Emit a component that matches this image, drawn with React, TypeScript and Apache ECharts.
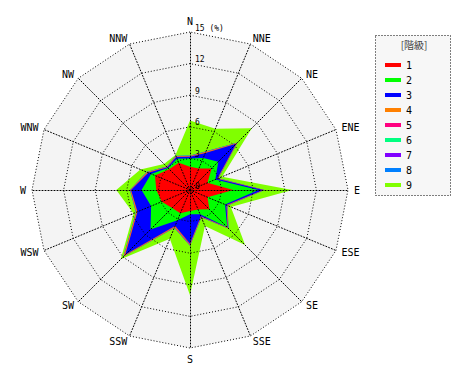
import React, { useEffect, useRef } from 'react';
import * as echarts from 'echarts';

const directions = ['N', 'NNE', 'NE', 'ENE', 'E', 'ESE', 'SE', 'SSE', 'S', 'SSW', 'SW', 'WSW', 'W', 'WNW', 'NW', 'NNW'];
const classNames = ['1', '2', '3', '4', '5', '6', '7', '8', '9'];
const classColors = ['#ff0000', '#00ff00', '#0000ff', '#ff8000', '#ff0080', '#00ff80', '#8000ff', '#0080ff', '#80ff00'];
const radiusMax = 15;
const radiusSplits = 5;

// cumulative frequency (%) per class, by direction (N, NNE, ... clockwise)
const class1 = [2.2, 2.2, 2.9, 1.8, 4.1, 1.8, 2.6, 2.0, 2.0, 2.4, 2.4, 2.9, 3.2, 3.6, 2.8, 2.8];
const class2 = [3.0, 3.3, 3.8, 2.6, 6.5, 3.6, 5.0, 2.5, 2.3, 3.1, 5.3, 4.0, 4.6, 4.0, 2.95, 3.2];
const class3 = [3.15, 3.8, 6.2, 2.8, 6.95, 3.75, 5.05, 2.7, 5.1, 3.7, 8.7, 5.4, 5.6, 4.3, 3.05, 3.4];
const class4 = [3.2, 3.9, 6.3, 2.85, 7.0, 3.8, 5.1, 2.75, 5.15, 3.8, 8.85, 5.5, 5.65, 4.4, 3.1, 3.45];
const class5 = [3.22, 3.92, 6.32, 2.87, 7.02, 3.82, 5.12, 2.77, 5.25, 3.85, 8.9, 5.52, 5.67, 4.42, 3.12, 3.47];
const class6 = [3.25, 3.95, 6.35, 2.9, 7.05, 3.85, 5.15, 2.8, 5.27, 3.87, 8.92, 5.54, 5.69, 4.44, 3.14, 3.49];
const class7 = [3.25, 3.95, 6.35, 2.9, 7.05, 3.85, 5.15, 2.8, 5.27, 3.87, 8.92, 5.54, 5.69, 4.44, 3.14, 3.49];
const class8 = [3.27, 3.97, 6.37, 2.92, 7.07, 3.87, 5.17, 2.82, 5.29, 3.89, 8.94, 5.56, 5.71, 4.46, 3.16, 3.51];
const class9 = [6.6, 6.3, 8.3, 3.3, 9.7, 4.2, 7.4, 3.7, 10.0, 5.0, 9.3, 5.8, 7.0, 5.1, 3.5, 3.6];

const classValues = [class1, class2, class3, class4, class5, class6, class7, class8, class9];

const MONO = '"DejaVu Sans Mono", monospace';

// ECharts radar places indicators counter-clockwise, so list them N, NNW, NW, ... NNE
const displayOrder = directions.map((_, i) => (directions.length - i) % directions.length);

export default function App() {
  const ref = useRef<HTMLDivElement>(null);
  useEffect(() => {
    if (!ref.current) return;
    const chart = echarts.init(ref.current, null, { renderer: 'svg' });
    const indicatorBase = displayOrder.map((k) => ({ name: directions[k], min: 0, max: radiusMax }));
    const overlayIndicators = indicatorBase.map((ind, i) =>
      i === 0
        ? {
            ...ind,
            axisLabel: {
              show: true,
              color: '#000',
              fontSize: 8,
              fontFamily: MONO,
              margin: -5,
              align: 'left',
              verticalAlign: 'bottom',
              formatter: (v: number) => (v === radiusMax ? v + ' (%)' : String(v)),
            },
          }
        : ind
    );
    const commonRadar = {
      center: [190, 190],
      radius: 158,
      startAngle: 90,
      splitNumber: radiusSplits,
      shape: 'polygon',
      nameGap: 6,
      axisTick: { show: false },
    };
    const dotted = { color: '#000', type: [1, 2], width: 1 };
    const order = [8, 7, 6, 5, 4, 3, 2, 1, 0];
    chart.setOption({
      animation: false,
      backgroundColor: '#ffffff',
      radar: [
        {
          ...commonRadar,
          z: 0,
          indicator: indicatorBase,
          axisName: { color: '#000', fontSize: 10, fontFamily: MONO },
          splitLine: { show: false },
          axisLine: { show: false },
          axisLabel: { show: false },
          splitArea: { show: true, areaStyle: { color: ['#f4f4f4'] } },
        },
        {
          ...commonRadar,
          z: 5,
          indicator: overlayIndicators,
          axisName: { show: false },
          splitArea: { show: false },
          splitLine: { show: true, lineStyle: dotted },
          axisLine: { show: true, lineStyle: dotted },
          axisLabel: { show: false },
        },
      ],
      legend: {
        orient: 'vertical',
        left: 380,
        top: 54,
        icon: 'rect',
        itemWidth: 16,
        itemHeight: 4,
        itemGap: 3,
        selectedMode: false,
        data: classNames,
        textStyle: { color: '#000', fontSize: 10, lineHeight: 12, fontFamily: MONO },
      },
      graphic: [
        {
          type: 'rect',
          z: 0,
          shape: { x: 375.5, y: 35.5, width: 75, height: 160 },
          style: { fill: '#f7f7f7', stroke: '#000', lineWidth: 1, lineDash: [1, 2] },
        },
        {
          type: 'text',
          z: 1,
          x: 414,
          y: 44,
          style: {
            text: '[階級]',
            fill: '#444',
            font: '10px "Noto Sans CJK JP"',
            align: 'center',
            verticalAlign: 'middle',
            textAlign: 'center',
            textVerticalAlign: 'middle',
          },
        },
      ],
      series: [
        {
          type: 'radar',
          radarIndex: 0,
          symbol: 'none',
          silent: true,
          z: 2,
          data: order.map((k) => ({
            name: classNames[k],
            value: displayOrder.map((d) => classValues[k][d]),
            itemStyle: { color: classColors[k] },
            lineStyle: { width: 0, opacity: 0, color: classColors[k] },
            areaStyle: { color: classColors[k], opacity: 1 },
          })),
        },
      ],
    });
    return () => chart.dispose();
  }, []);
  return <div ref={ref} style={{ position: 'absolute', left: 0, top: 0, width: 470, height: 380 }} />;
}
